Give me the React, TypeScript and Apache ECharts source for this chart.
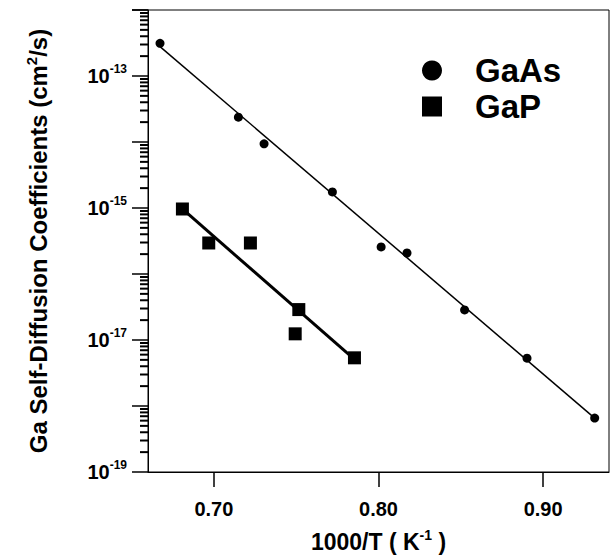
import React, { useEffect, useRef } from "react";
import * as echarts from "echarts";

// ---- data ----
const gaAsX = [0.6673, 0.7149, 0.7305, 0.772, 0.8016, 0.8173, 0.8523, 0.8902, 0.9313];
const gaAsY = [3.13e-13, 2.38e-14, 9.4e-15, 1.75e-15, 2.57e-16, 2.08e-16, 2.86e-17, 5.31e-18, 6.56e-19];
const gaPX = [0.6809, 0.6969, 0.7222, 0.7516, 0.7494, 0.7854];
const gaPY = [9.66e-16, 2.95e-16, 2.95e-16, 2.89e-17, 1.24e-17, 5.37e-18];
// fitted lines (end points)
const gaAsFitX = [0.6673, 0.9313];
const gaAsFitY = [2.79e-13, 6.56e-19];
const gaPFitX = [0.6809, 0.7854];
const gaPFitY = [9.66e-16, 5.07e-18];
// axes
const xMin = 0.66;
const xMax = 0.94;
const xTicks = [0.7, 0.8, 0.9];
const yMin = 1e-19;
const yMax = 1e-12;
const decadeExps = [-19, -18, -17, -16, -15, -14, -13];
const minorMultipliers = [2, 3, 4, 5, 6, 7, 8, 9];

const FONT = "'Liberation Sans', Arial, Helvetica, sans-serif";

export default function App() {
  const ref = useRef<HTMLDivElement>(null);
  useEffect(() => {
    if (!ref.current) return;
    const chart = echarts.init(ref.current, undefined, { renderer: "svg" });
    const zip = (xs: number[], ys: number[]) => xs.map((x, i) => [x, ys[i]]);
    const supStyle = (size: number, lift: number) => ({
      fontSize: size,
      fontWeight: "bold",
      fontFamily: FONT,
      color: "#000",
      padding: [0, 0, lift, 0],
    });
    const minorData: number[][] = [];
    decadeExps.forEach((e) =>
      minorMultipliers.forEach((m) => minorData.push([xMin, m * Math.pow(10, e)]))
    );
    chart.setOption({
      animation: false,
      backgroundColor: "#fff",
      grid: {
        left: 148,
        right: 2,
        top: 10,
        bottom: 87,
        show: true,
        borderColor: "#000",
        borderWidth: 1,
        containLabel: false,
      },
      legend: {
        data: ["GaAs", "GaP"],
        orient: "vertical",
        left: 417,
        top: 49,
        itemWidth: 20,
        itemHeight: 20,
        itemGap: 3,
        textStyle: {
          fontSize: 33,
          fontWeight: "bold",
          fontFamily: FONT,
          color: "#000",
          padding: [0, 0, 0, 28],
        },
        selectedMode: false,
      },
      xAxis: {
        type: "value",
        min: xMin,
        max: xMax,
        name: "1000/T ( K{s|-1} )",
        nameLocation: "middle",
        nameGap: 56,
        nameTextStyle: {
          fontSize: 23,
          fontWeight: "bold",
          fontFamily: FONT,
          color: "#000",
          rich: { s: supStyle(14, 14) },
        },
        axisLine: { lineStyle: { color: "#000", width: 1 } },
        axisTick: { length: 15, inside: false, customValues: xTicks, lineStyle: { color: "#000", width: 1.5 } },
        axisLabel: {
          customValues: xTicks,
          margin: 27,
          fontSize: 20,
          fontWeight: "bold",
          fontFamily: FONT,
          color: "#000",
          formatter: (v: number) => v.toFixed(2),
        },
        splitLine: { show: false },
      },
      yAxis: {
        type: "log",
        logBase: 10,
        min: yMin,
        max: yMax,
        name: "Ga Self-Diffusion Coefficients (cm{s|2}/s)",
        nameLocation: "middle",
        nameGap: 95,
        nameRotate: 90,
        nameTextStyle: {
          fontSize: 24,
          fontWeight: "bold",
          fontFamily: FONT,
          color: "#000",
          rich: { s: supStyle(15, 14) },
        },
        axisLine: { show: true, lineStyle: { color: "#000", width: 1 } },
        axisTick: { show: true, length: 16, inside: false, lineStyle: { color: "#000", width: 1.5 } },
        axisLabel: {
          margin: 21,
          fontSize: 20,
          fontWeight: "bold",
          fontFamily: FONT,
          color: "#000",
          rich: { s: supStyle(12, 14) },
          formatter: (v: number) => {
            const e = Math.round(Math.log10(v));
            if (e % 2 === 0) return "";
            return "10{s|" + e + "}";
          },
        },
        splitLine: { show: false },
      },
      series: [
        {
          name: "GaAs fit",
          type: "line",
          data: zip(gaAsFitX, gaAsFitY),
          showSymbol: false,
          symbol: "none",
          lineStyle: { color: "#000", width: 1.5 },
          silent: true,
        },
        {
          name: "GaP fit",
          type: "line",
          data: zip(gaPFitX, gaPFitY),
          showSymbol: false,
          symbol: "none",
          lineStyle: { color: "#000", width: 3 },
          silent: true,
        },
        {
          name: "GaAs",
          type: "scatter",
          symbol: "circle",
          symbolSize: 9,
          itemStyle: { color: "#000", opacity: 1 },
          data: zip(gaAsX, gaAsY),
          z: 10,
        },
        {
          name: "GaP",
          type: "scatter",
          symbol: "rect",
          symbolSize: 13,
          itemStyle: { color: "#000", opacity: 1 },
          data: zip(gaPX, gaPY),
          z: 10,
        },
        {
          // log-scale minor ticks (2..9 of each decade) on the left axis
          name: "minor ticks",
          type: "scatter",
          symbol: "rect",
          symbolSize: [8, 2],
          symbolOffset: [-4, 0],
          clip: false,
          silent: true,
          itemStyle: { color: "#000", opacity: 1 },
          data: minorData,
          z: 20,
        },
      ],
    });
    return () => chart.dispose();
  }, []);
  return (
    <div
      ref={ref}
      style={{ position: "fixed", left: 0, top: 0, width: 611, height: 559, background: "#fff" }}
    />
  );
}
